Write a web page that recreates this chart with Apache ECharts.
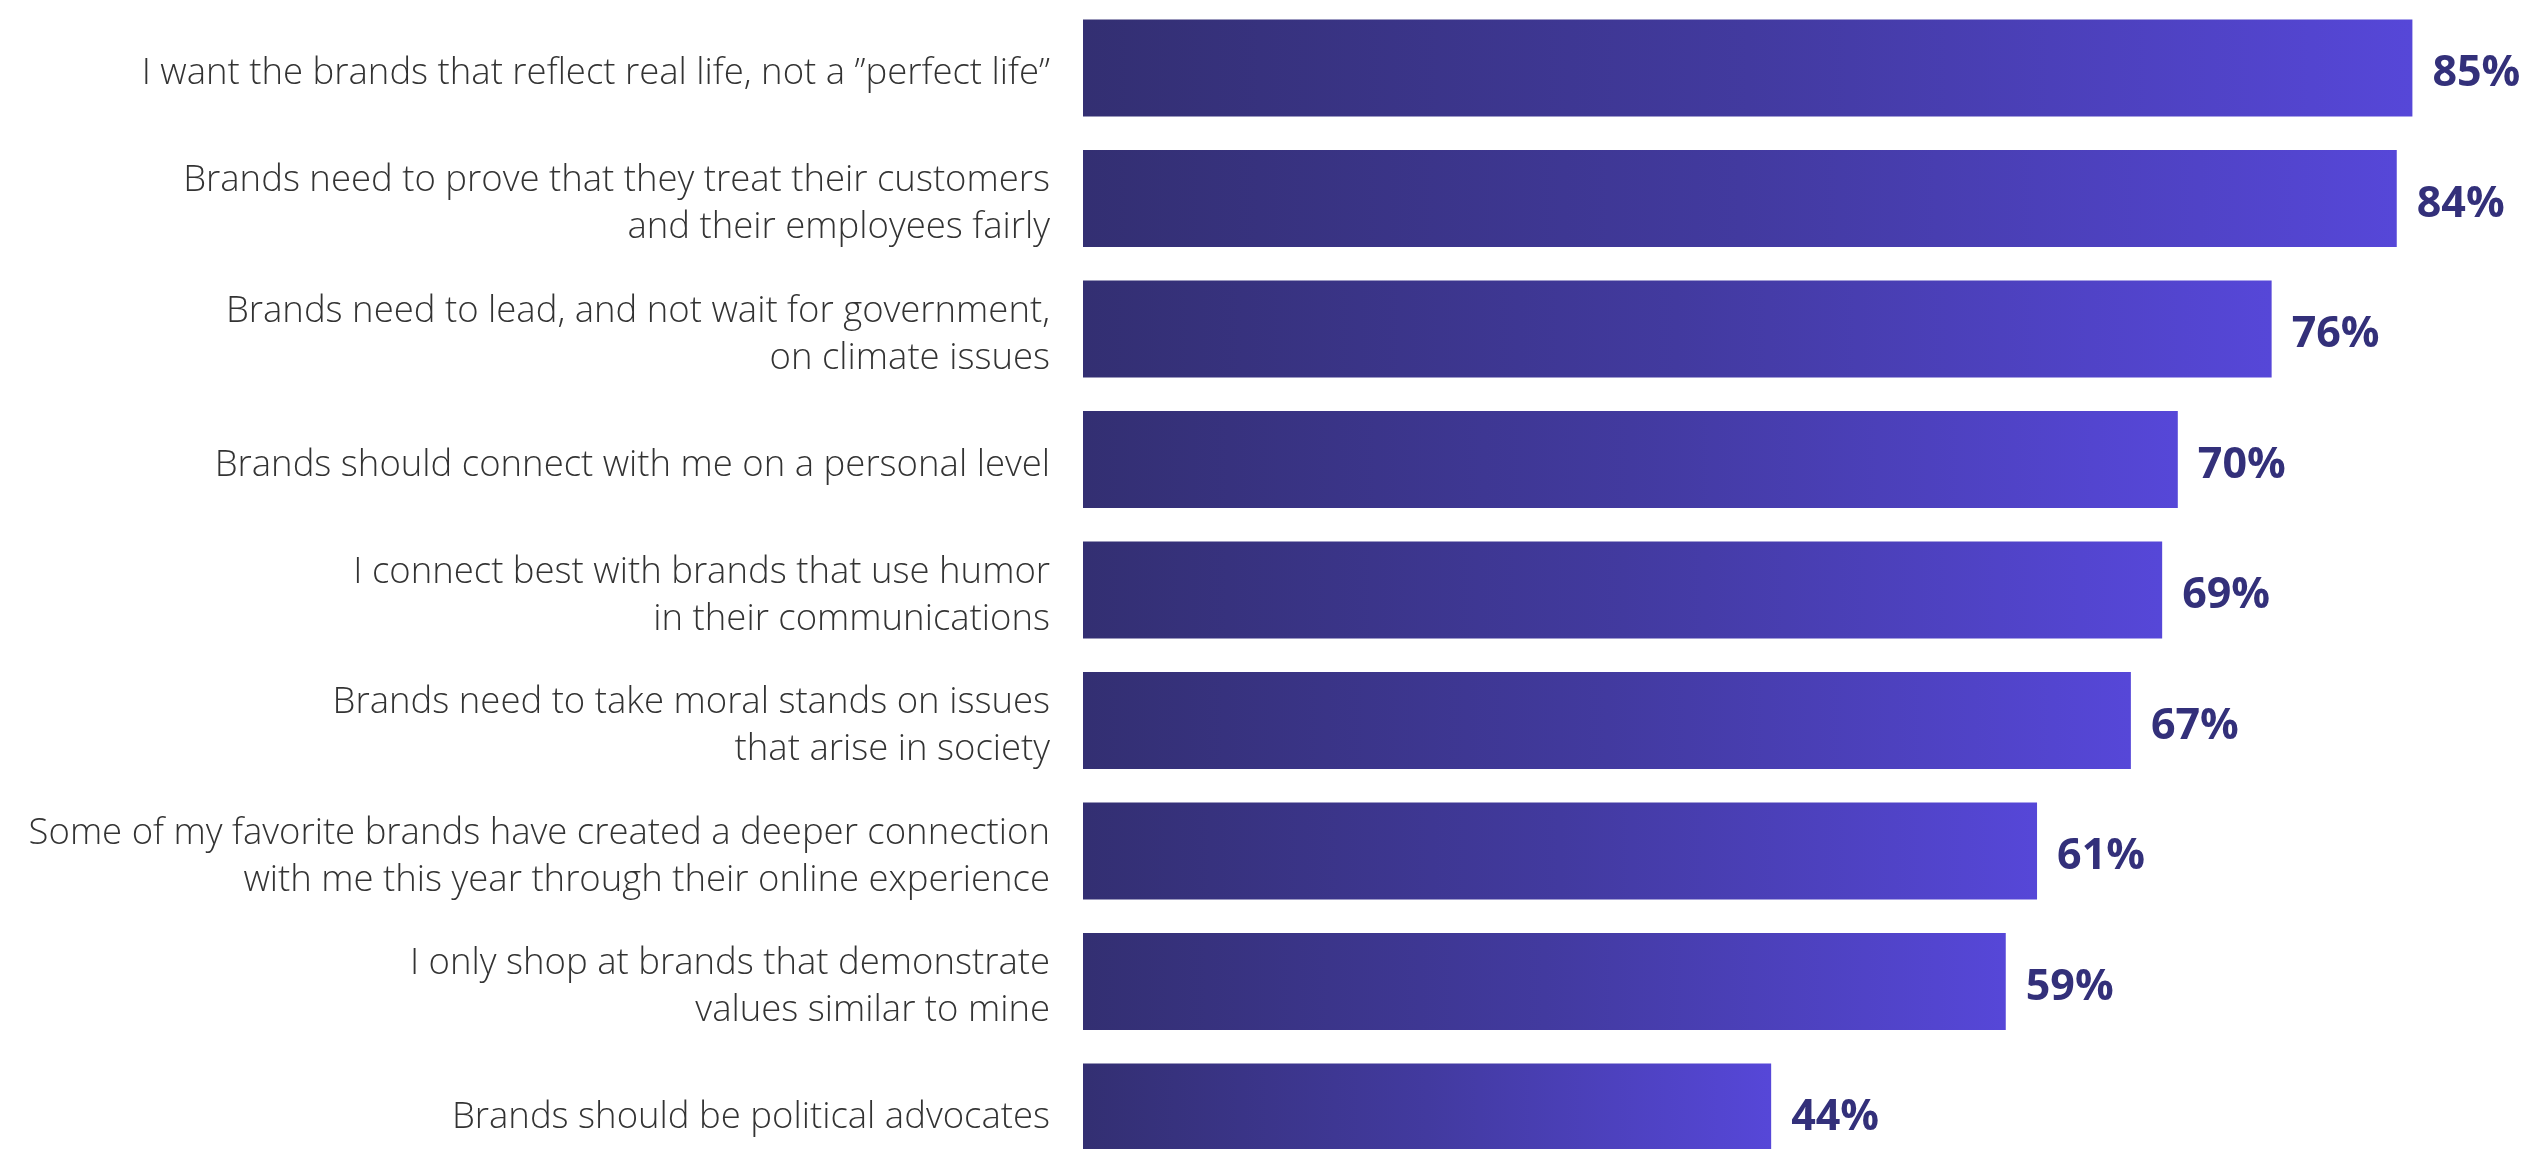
<!DOCTYPE html>
<html>
<head>
<meta charset="utf-8">
<script src="https://cdn.jsdelivr.net/npm/echarts@6/dist/echarts.min.js"></script>
<style>
html,body{margin:0;padding:0;background:#fff;}
#chart{width:2530px;height:1149px;}
</style>
</head>
<body>
<div id="chart"></div>
<script>
const categories = [
  'I want the brands that reflect real life, not a \u201Dperfect life\u201D',
  'Brands need to prove that they treat their customers\nand their employees fairly',
  'Brands need to lead, and not wait for government,\non climate issues',
  'Brands should connect with me on a personal level',
  'I connect best with brands that use humor\nin their communications',
  'Brands need to take moral stands on issues\nthat arise in society',
  'Some of my favorite brands have created a deeper connection\nwith me this year through their online experience',
  'I only shop at brands that demonstrate\nvalues similar to mine',
  'Brands should be political advocates'
];
const values = [85, 84, 76, 70, 69, 67, 61, 59, 44];

const chart = echarts.init(document.getElementById('chart'));
chart.setOption({
  backgroundColor: '#ffffff',
  animation: false,
  grid: { left: 1083, top: 2.75, width: 1564, height: 1174.5, containLabel: false, outerBoundsMode: 'none' },
  xAxis: {
    type: 'value', min: 0, max: 100,
    show: false
  },
  yAxis: {
    type: 'category',
    data: categories,
    inverse: true,
    axisLine: { show: false },
    axisTick: { show: false },
    axisLabel: {
      margin: 33,
      align: 'right',
      formatter: function (v) {
        return '{s| }\n' + v.split('\n').map(function (l) { return '{t|' + l + '}'; }).join('\n');
      },
      rich: {
        s: { fontSize: 1, lineHeight: 12 },
        t: {
          fontFamily: 'Open Sans',
          fontWeight: 300,
          fontSize: 36.5,
          lineHeight: 47,
          color: '#333333'
        }
      }
    }
  },
  series: [{
    type: 'bar',
    data: values,
    barWidth: 97,
    itemStyle: {
      color: new echarts.graphic.LinearGradient(0, 0, 1, 0, [
        { offset: 0, color: '#332f72' },
        { offset: 0.5, color: '#423a9f' },
        { offset: 1, color: '#5647d8' }
      ])
    },
    label: {
      show: true,
      position: 'right',
      distance: 20,
      offset: [0, 6],
      formatter: '{c}%',
      fontFamily: 'Open Sans',
      fontWeight: 700,
      fontSize: 43,
      color: '#33307a'
    }
  }]
});
</script>
</body>
</html>
